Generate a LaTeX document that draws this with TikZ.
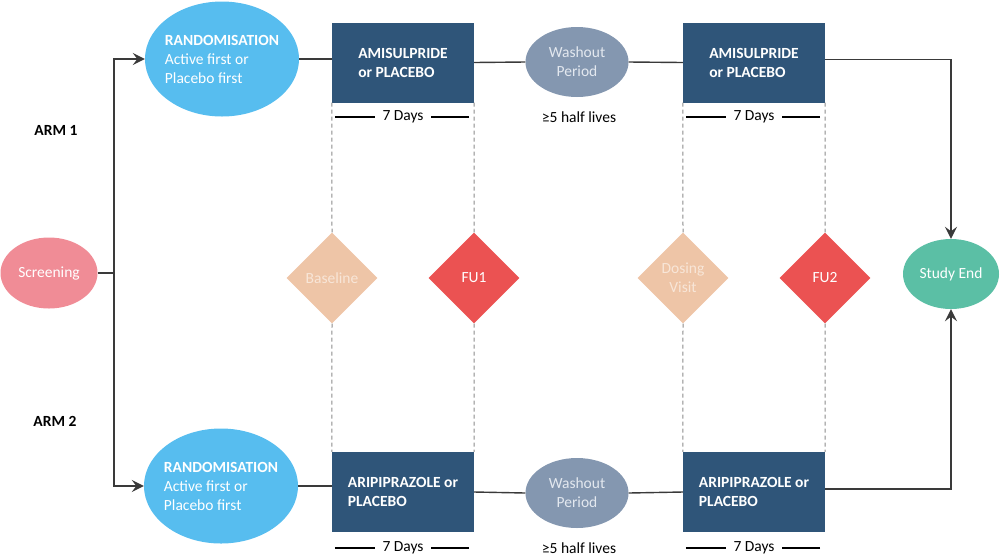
\documentclass[tikz,border=0pt]{standalone}
\usepackage{fontspec}
\setmainfont{Carlito}
\usetikzlibrary{shapes.geometric,arrows.meta,calc}
\definecolor{randblue}{HTML}{57BDEF}
\definecolor{boxblue}{HTML}{2F5579}
\definecolor{washgrey}{HTML}{8497B0}
\definecolor{washtxt}{HTML}{E3E8EF}
\definecolor{scrpink}{HTML}{F08C96}
\definecolor{peach}{HTML}{EEC5A7}
\definecolor{peachtxt}{HTML}{F8E6D8}
\definecolor{fured}{HTML}{EB5252}
\definecolor{teal}{HTML}{5BBFA5}
\definecolor{linegrey}{HTML}{3A3A3A}
\definecolor{dashgrey}{HTML}{8A8A8A}
\tikzset{
  base/.style={font=\fontsize{15.5}{19}\selectfont, inner sep=0pt},
  oval/.style={base, ellipse, draw=none},
  randnode/.style={oval, inner sep=-8pt, fill=randblue, text=white, minimum width=154, minimum height=115, align=left},
  washnode/.style={oval, fill=washgrey, text=washtxt, minimum width=103, minimum height=70, align=center},
  treatbox/.style={base, rectangle, fill=boxblue, text=white, minimum width=142, minimum height=80, align=left, font=\fontsize{15.5}{19}\selectfont\bfseries},
  visit/.style={base, diamond, aspect=1, minimum width=91, minimum height=91, align=center},
  conn/.style={draw=linegrey, line width=1.4pt},
  arr/.style={conn, -{Stealth[length=12pt,width=12pt,inset=4.5pt]}},
  vdash/.style={draw=dashgrey, line width=1pt, dash pattern=on 4pt off 3pt},
  daybar/.style={draw=black, line width=2.6pt},
  lbl/.style={base, text=black, inner xsep=7pt},
  armlbl/.style={base, text=black, font=\fontsize{15.5}{19}\selectfont\bfseries}
}
\begin{document}
\begin{tikzpicture}[x=1pt,y=-1pt]
\useasboundingbox (0,0) rectangle (1000,558);
% nodes
\node[oval, fill=scrpink, text=white, minimum width=97, minimum height=71] (scr) at (49,273) {Screening};
\node[randnode] (r1) at (222,59) {\textbf{RANDOMISATION}\\Active first or\\Placebo first};
\node[randnode] (r2) at (221,486) {\textbf{RANDOMISATION}\\Active first or\\Placebo first};
\node[treatbox] (b1) at (403,62.5) {AMISULPRIDE\\or PLACEBO};
\node[treatbox] (b2) at (754,62.5) {AMISULPRIDE\\or PLACEBO};
\node[treatbox] (b3) at (403,492) {ARIPIPRAZOLE or\\PLACEBO};
\node[treatbox] (b4) at (754,492) {ARIPIPRAZOLE or\\PLACEBO};
\node[washnode] (w1) at (577,62) {Washout\\Period};
\node[washnode] (w2) at (577,493) {Washout\\Period};
\node[oval, fill=teal, text=white, minimum width=96, minimum height=70] (se) at (951,274) {Study End};
\node[visit, fill=peach, text=peachtxt] (bl) at (332,278) {Baseline};
\node[visit, fill=fured, text=white] (f1) at (474,278) {FU1};
\node[visit, fill=peach, text=peachtxt] (dv) at (683,278) {Dosing\\Visit};
\node[visit, fill=fured, text=white] (f2) at (825,278) {FU2};
\node[armlbl] (a1) at (56,130) {ARM 1};
\node[armlbl] (a2) at (55,421) {ARM 2};
\node[lbl] (d1) at (403,117) {7 Days};
\node[lbl] (d2) at (754,117) {7 Days};
\node[lbl] (d3) at (403,548) {7 Days};
\node[lbl] (d4) at (754,548) {7 Days};
\node[lbl] (h1) at (579,117) {≥5 half lives};
\node[lbl] (h2) at (579,548) {≥5 half lives};
\coordinate (J) at (114,273);
% connectors
\draw[conn] (scr.east) -- (J);
\draw[arr] (J) |- (r1.west);
\draw[arr] (J) |- (r2.west);
\draw[conn] (r1.east) -- (b1.west |- r1.east);
\draw[conn] (b1.east) -- (w1.west);
\draw[conn] (w1.east) -- (b2.west);
\draw[conn] (r2.east) -- (b3.west |- r2.east);
\draw[conn] (b3.east) -- (w2.west);
\draw[conn] (w2.east) -- (b4.west);
\draw[arr] ([yshift=3]b2.east) -| (se.north);
\draw[arr] ([yshift=3]b4.east) -| (se.south);
% dashed guides
\draw[vdash] (b1.south west) -- (bl.north);
\draw[vdash] (bl.south) -- (b3.north west);
\draw[vdash] (b1.south east) -- (f1.north);
\draw[vdash] (f1.south) -- (b3.north east);
\draw[vdash] (b2.south west) -- (dv.north);
\draw[vdash] (dv.south) -- (b4.north west);
\draw[vdash] (b2.south east) -- (f2.north);
\draw[vdash] (f2.south) -- (b4.north east);
% 7 day bars
\foreach \d/\b in {d1/b1,d2/b2,d3/b3,d4/b4}{
  \draw[daybar] ([xshift=3]\b.west |- \d.west) -- (\d.west);
  \draw[daybar] ([xshift=-5]\b.east |- \d.east) -- (\d.east);
}
\end{tikzpicture}
\end{document}
